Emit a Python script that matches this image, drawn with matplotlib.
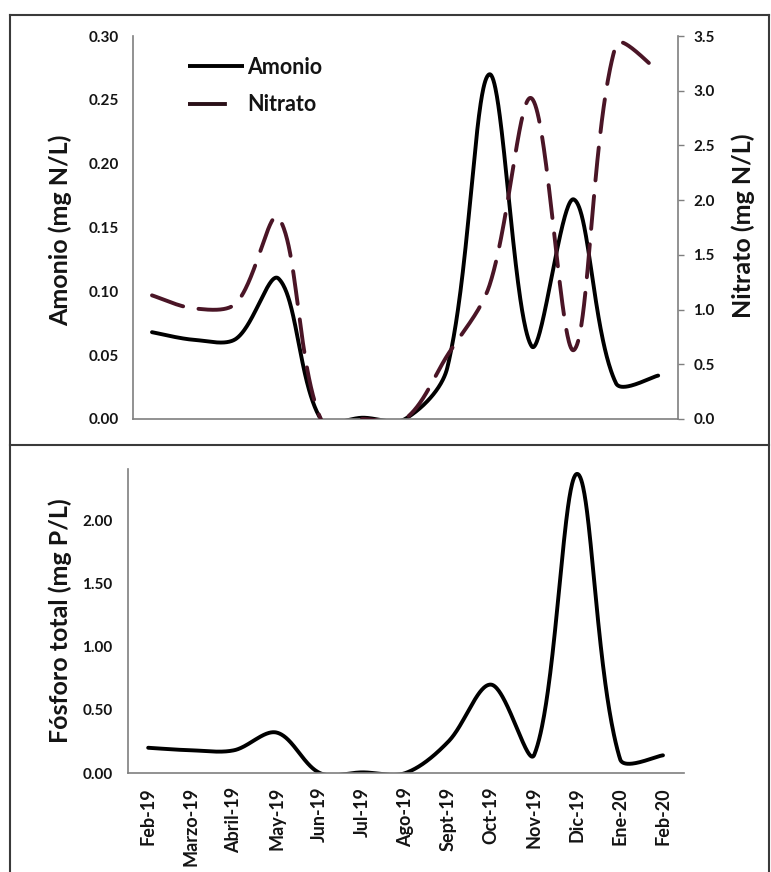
import numpy as np
import matplotlib
matplotlib.use("Agg")
import matplotlib.pyplot as plt
from matplotlib.lines import Line2D
from matplotlib.ticker import FixedLocator, FormatStrFormatter

plt.rcParams['font.family'] = ['Lato', 'DejaVu Sans']
plt.rcParams['font.weight'] = 'bold'

# ---------------- data ----------------
months = ["Feb-19", "Marzo-19", "Abril-19", "May-19", "Jun-19", "Jul-19", "Ago-19",
          "Sept-19", "Oct-19", "Nov-19", "Dic-19", "Ene-20", "Feb-20"]
amonio = [0.068, 0.062, 0.063, 0.110, 0.0, 0.001, 0.0, 0.040, 0.270, 0.057, 0.172, 0.028, 0.034]
nitrato = [1.13, 1.01, 1.06, 1.84, 0.0, 0.0, 0.0, 0.58, 1.22, 2.93, 0.63, 3.42, 3.18]
fosforo = [0.20, 0.18, 0.18, 0.32, 0.0, 0.005, 0.0, 0.25, 0.70, 0.145, 2.37, 0.11, 0.14]

amonio_ticks = [0.00, 0.05, 0.10, 0.15, 0.20, 0.25, 0.30]
nitrato_ticks = [0.0, 0.5, 1.0, 1.5, 2.0, 2.5, 3.0, 3.5]
fosforo_ticks = [0.00, 0.50, 1.00, 1.50, 2.00]


def smooth(axis, x, y, n=80):
    """Excel-like smoothed line: Bezier segments built in screen space."""
    P = axis.transData.transform(np.column_stack([np.asarray(x, float), np.asarray(y, float)]))
    E = np.vstack([P[0], P, P[-1]])
    t = np.linspace(0, 1, n)[:, None]
    parts = []
    for i in range(len(P) - 1):
        p0, p1, p2, p3 = E[i], E[i + 1], E[i + 2], E[i + 3]
        d01 = np.hypot(*(p1 - p0))
        d12 = np.hypot(*(p2 - p1))
        d23 = np.hypot(*(p3 - p2))
        s1 = 1 / 6 if d01 == 0 else d12 / (3 * (d01 + d12))
        s2 = 1 / 6 if d23 == 0 else d12 / (3 * (d12 + d23))
        c1 = p1 + (p2 - p0) * s1
        c2 = p2 - (p3 - p1) * s2
        seg = (1 - t) ** 3 * p1 + 3 * (1 - t) ** 2 * t * c1 + 3 * (1 - t) * t ** 2 * c2 + t ** 3 * p2
        parts.append(seg if i == 0 else seg[1:])
    S = axis.transData.inverted().transform(np.vstack(parts))
    return S[:, 0], S[:, 1]


W, H = 771, 872
fig = plt.figure(figsize=(W / 100, H / 100), dpi=100)


def fx(px):
    return px / W


def fy(py):
    return 1 - py / H


x = np.arange(len(months))
NITRO_COLOR = "#4a1526"
LW = 2.8
TXT = "#141414"
SPC = "#7f7f7f"

# ---------------- top panel ----------------
ax = fig.add_axes([fx(133), fy(419), fx(678) - fx(133), fy(36) - fy(419)])
ax2 = ax.twinx()
ax.set_xlim(-0.45, len(months) - 1 + 0.47)
ax2.set_xlim(-0.45, len(months) - 1 + 0.47)
ax.set_ylim(0, 0.30)
ax2.set_ylim(0, 3.5)

sx, sy = smooth(ax, x, amonio)
ax.plot(sx, sy, color="black", lw=LW, solid_capstyle="round")
nx, ny = smooth(ax2, x, nitrato)
ax2.plot(nx, ny, color=NITRO_COLOR, lw=LW, dashes=(8.5, 4), dash_capstyle="round")

ax.yaxis.set_major_locator(FixedLocator(amonio_ticks))
ax.yaxis.set_major_formatter(FormatStrFormatter("%.2f"))
ax2.yaxis.set_major_locator(FixedLocator(nitrato_ticks))
ax2.yaxis.set_major_formatter(FormatStrFormatter("%.1f"))
ax.set_xticks([])

for a in (ax, ax2):
    a.spines['top'].set_visible(False)
    a.patch.set_alpha(0)
ax.spines['right'].set_visible(False)
ax2.spines['left'].set_visible(False)
ax2.spines['bottom'].set_visible(False)
for s in ('left', 'bottom'):
    ax.spines[s].set_color(SPC)
    ax.spines[s].set_linewidth(1.2)
ax2.spines['right'].set_color(SPC)
ax2.spines['right'].set_linewidth(1.2)

ax.tick_params(axis='y', length=0, pad=10, labelsize=11, labelcolor=TXT)
ax2.tick_params(axis='y', length=4, width=1, color=SPC, direction='out', pad=7,
                labelsize=11, labelcolor=TXT)
for lab in ax.get_yticklabels() + ax2.get_yticklabels():
    lab.set_fontweight('bold')

h_am = Line2D([], [], color="black", lw=LW, solid_capstyle="butt")
h_ni = Line2D([], [], color="#2a1018", lw=LW, dashes=(10, 12), dash_capstyle="butt")
leg = ax2.legend(handles=[h_am, h_ni], labels=["Amonio", "Nitrato"], loc='upper left',
                 bbox_to_anchor=((188 - 133) / 545, (419 - 57) / 383),
                 frameon=False, fontsize=15.5, handlelength=2.6, handletextpad=0.15,
                 borderpad=0, borderaxespad=0, labelspacing=0.75)
for t in leg.get_texts():
    t.set_fontweight('bold')
    t.set_color(TXT)

fig.text(fx(60), fy(230), "Amonio (mg N/L)", rotation=90, ha='center', va='center',
         fontsize=18, fontweight='bold', color=TXT)
fig.text(fx(743), fy(226), "Nitrato (mg N/L)", rotation=90, ha='center', va='center',
         fontsize=18, fontweight='bold', color=TXT)

# ---------------- bottom panel ----------------
bx = fig.add_axes([fx(128), fy(773), fx(684) - fx(128), fy(469.5) - fy(773)])
bx.set_xlim(-0.47, len(months) - 1 + 0.49)
bx.set_ylim(0, 2.405)
px_, py_ = smooth(bx, x, fosforo)
bx.plot(px_, py_, color="black", lw=LW, solid_capstyle="round")
bx.yaxis.set_major_locator(FixedLocator(fosforo_ticks))
bx.yaxis.set_major_formatter(FormatStrFormatter("%.2f"))
bx.set_xticks(x)
bx.set_xticklabels(months, rotation=90, fontsize=13, fontweight='bold', color=TXT)
bx.tick_params(axis='x', length=0, pad=10)
bx.tick_params(axis='y', length=0, pad=11, labelsize=11, labelcolor=TXT)
for lab in bx.get_yticklabels():
    lab.set_fontweight('bold')
bx.spines['top'].set_visible(False)
bx.spines['right'].set_visible(False)
for s in ('left', 'bottom'):
    bx.spines[s].set_color(SPC)
    bx.spines[s].set_linewidth(1.2)
bx.patch.set_alpha(0)

fig.text(fx(60), fy(621), "Fósforo total (mg P/L)", rotation=90, ha='center', va='center',
         fontsize=18, fontweight='bold', color=TXT)

# ---------------- panel frames ----------------
FR = dict(color="#3a3a3a", lw=1.5, transform=fig.transFigure)
fig.add_artist(Line2D([fx(10), fx(769)], [fy(15), fy(15)], **FR))
fig.add_artist(Line2D([fx(10), fx(769)], [fy(445), fy(445)], **FR))
fig.add_artist(Line2D([fx(10), fx(10)], [fy(15), fy(871)], **FR))
fig.add_artist(Line2D([fx(769), fx(769)], [fy(15), fy(871)], **FR))

fig.savefig("out.png", dpi=100)
